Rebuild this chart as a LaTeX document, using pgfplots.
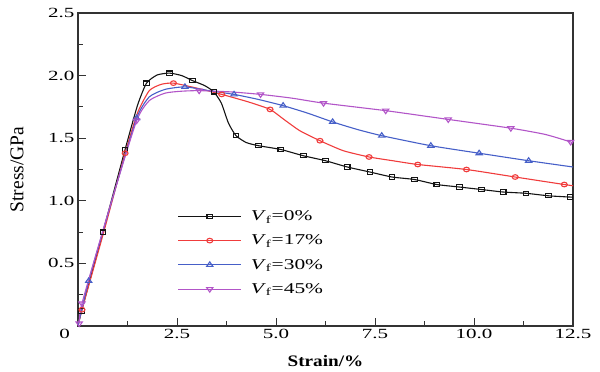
\documentclass[border=0pt]{standalone}
\usepackage{pgfplots}
\pgfplotsset{compat=1.18}
\usepackage{fontspec}
\setmainfont{Liberation Serif}
\definecolor{cblack}{RGB}{20,20,20}
\definecolor{cred}{RGB}{240,60,60}
\definecolor{cblue}{RGB}{70,95,200}
\definecolor{cpurple}{RGB}{178,85,200}
\newcommand{\sx}[1]{\scalebox{1.5}[1]{#1}}
\newcommand{\legvf}[1]{\scalebox{1.43}[1]{\textit{V}\textsubscript{f}=#1\%}}
\begin{document}
\begin{tikzpicture}
\begin{axis}[
  scale only axis,
  width=495bp, height=313bp,
  at={(0,0)}, anchor=south west,
  xmin=0, xmax=12.5, ymin=0, ymax=2.5,
  xtick={0,2.5,5,7.5,10,12.5},
  xticklabels={\llap{\sx{0}\hspace{8bp}},\sx{2.5},\sx{5.0},\sx{7.5},\sx{10.0},\sx{12.5}},
  ytick={0,0.5,1,1.5,2,2.5},
  yticklabels={,\sx{0.5},\sx{1.0},\sx{1.5},\sx{2.0},\sx{2.5}},
  minor x tick num=1, minor y tick num=1,
  tick pos=left, tick align=inside,
  major tick length=8bp, minor tick length=5bp,
  ticklabel style={font=\fontsize{14bp}{14bp}\selectfont},
  axis line style={color=black!80, line width=1.3bp},
  every tick/.style={color=black!80, line width=1bp},
  xlabel={\scalebox{1.2}[1]{\fontsize{16bp}{16bp}\selectfont\bfseries Strain/\%}},
  ylabel={\scalebox{1.3}[1.3]{Stress/GPa}},
  label style={font=\fontsize{15bp}{15bp}\selectfont},
  xlabel style={at={(axis description cs:0.5,-0.112)}, anchor=center},
  ylabel style={at={(axis description cs:-0.123,0.5)}, anchor=center},
  legend style={at={(axis description cs:0.195,0.382)}, anchor=north west,
    draw=none, fill=none, row sep=8.8bp, font=\fontsize{15bp}{15bp}\selectfont,
    column sep=7bp},
  legend cell align=left,
  legend image code/.code={\draw[#1, line width=1.1bp, mark indices={2}] plot coordinates {(0bp,0bp)(31.5bp,0bp)(63bp,0bp)};},
  every axis plot/.append style={line width=1.1bp, smooth, tension=0.35},
]
\addplot[color=cblack, mark=square, mark size=2.1bp, mark options={fill=white, xscale=1.3},
  mark indices={2,3,4,6,8,10,12,15,17,18,19,20,21,22,23,24,25,26,27,28,29,30,31}]
coordinates {
(0,0)(0.09,0.12)(0.63,0.75)(1.19,1.41)(1.50,1.76)(1.73,1.94)(2.00,2.005)(2.31,2.02)
(2.62,2.00)(2.89,1.96)(3.20,1.92)(3.43,1.87)(3.62,1.78)(3.80,1.62)(3.99,1.52)
(4.25,1.465)(4.56,1.44)(5.12,1.41)(5.69,1.36)(6.25,1.32)(6.80,1.27)(7.37,1.23)
(7.93,1.19)(8.50,1.17)(9.06,1.13)(9.63,1.11)(10.19,1.09)(10.74,1.07)(11.31,1.06)
(11.88,1.04)(12.42,1.03)(12.5,1.03)};
\addlegendentry{\legvf{0}}
\addplot[color=cred, mark=o, mark size=2.3bp, mark options={fill=white, xscale=1.3},
  mark indices={2,4,8,10,12,15,17,19,20,21,22}]
coordinates {
(0,0)(0.10,0.13)(0.65,0.75)(1.19,1.38)(1.50,1.70)(1.80,1.88)(2.10,1.93)(2.41,1.94)
(3.00,1.90)(3.63,1.85)(4.30,1.79)(4.85,1.73)(5.20,1.65)(5.60,1.56)(6.11,1.48)
(6.70,1.40)(7.35,1.35)(7.95,1.32)(8.58,1.29)(9.81,1.25)(11.04,1.19)(12.28,1.13)(12.5,1.12)};
\addlegendentry{\legvf{17}}
\addplot[color=cblue, mark=triangle, mark size=3bp, mark options={fill=white, xscale=1.2},
  mark indices={2,4,7,9,11,13,15,16,17,18}]
coordinates {
(0,0)(0.27,0.36)(0.90,1.05)(1.48,1.66)(1.80,1.83)(2.20,1.89)(2.70,1.91)(3.30,1.88)
(3.94,1.85)(4.55,1.81)(5.18,1.76)(5.80,1.70)(6.43,1.63)(7.05,1.57)(7.67,1.52)
(8.91,1.44)(10.13,1.38)(11.38,1.32)(12.5,1.27)};
\addlegendentry{\legvf{30}}
\addplot[color=cpurple, mark=triangle, mark size=3bp, mark options={fill=white, xscale=1.2, rotate=180},
  mark indices={1,2,4,8,10,12,13,14,15,17}]
coordinates {
(0.03,0.02)(0.10,0.18)(0.85,1.00)(1.48,1.64)(1.80,1.80)(2.20,1.86)(2.60,1.875)(3.06,1.88)
(3.85,1.87)(4.61,1.85)(5.40,1.82)(6.20,1.78)(7.77,1.72)(9.35,1.65)(10.93,1.58)
(11.80,1.53)(12.44,1.47)(12.5,1.46)};
\addlegendentry{\legvf{45}}
\end{axis}
\pgfresetboundingbox
\path[use as bounding box] (-78bp,-46bp) rectangle (522bp,326bp);
\end{tikzpicture}
\end{document}
